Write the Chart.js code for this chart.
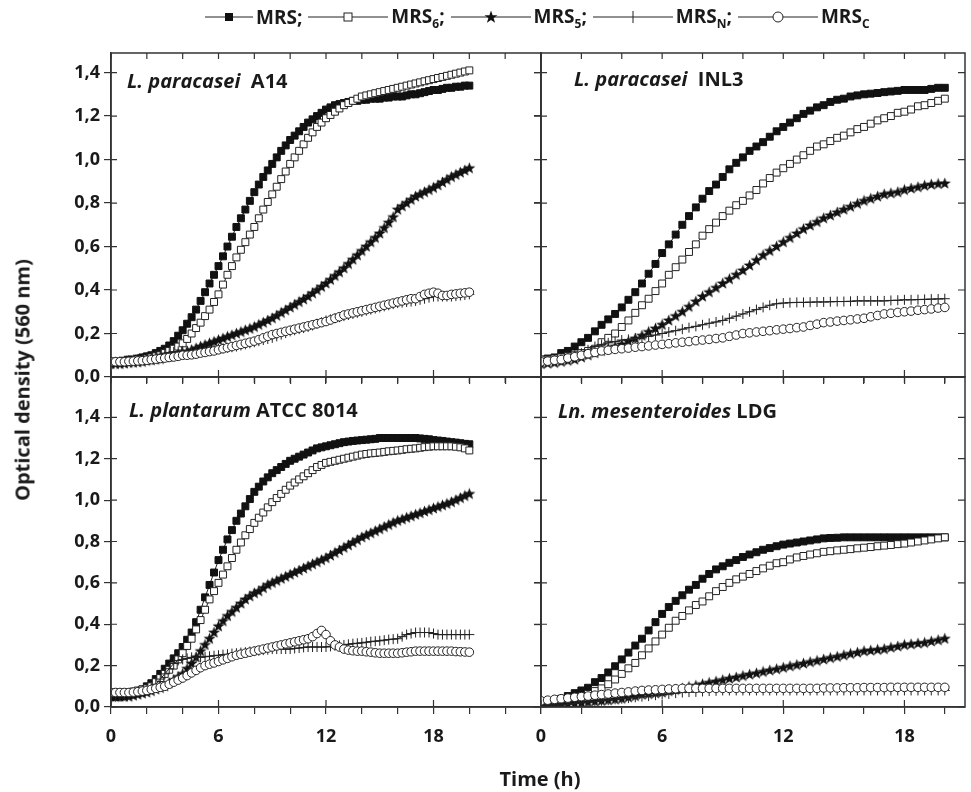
<!DOCTYPE html>
<html>
<head>
<meta charset="utf-8">
<script src="https://cdn.jsdelivr.net/npm/chart.js@4.4.1/dist/chart.umd.min.js"></script>
<style>
  html, body { margin: 0; padding: 0; background: #fff; }
  #wrap { position: relative; width: 971px; height: 792px; font-family: 'Open Sans', sans-serif; font-weight: bold; color: #1a1a1a; }
  #wrap canvas { position: absolute; left: 0; top: 0; }
  .ptitle { position: absolute; font-size: 20px; white-space: nowrap; }
  #legend { position: absolute; left: 205px; top: 3px; display: flex; align-items: center; font-size: 19px; white-space: nowrap; }
  #legend .item { display: flex; align-items: center; }
  #legend svg { display: block; }
  #legend span { margin: 0 6px 0 3px; }
  #legend sub { font-size: 12px; }
  #ytitle { position: absolute; left: 22px; top: 380px; font-size: 20px; white-space: nowrap; transform: translate(-50%, -50%) rotate(-90deg); }
  #xtitle { position: absolute; left: 540px; top: 778px; font-size: 20px; white-space: nowrap; transform: translate(-50%, -50%); }
</style>
</head>
<body>
<div id="wrap">
  <canvas id="tl" width="971" height="792"></canvas>
  <canvas id="tr" width="971" height="792"></canvas>
  <canvas id="bl" width="971" height="792"></canvas>
  <canvas id="br" width="971" height="792"></canvas>
  <div id="legend"></div>
  <div class="ptitle" style="left:127px;top:67px"><i>L. paracasei</i>&nbsp; A14</div>
  <div class="ptitle" style="left:574px;top:65px"><i>L. paracasei</i>&nbsp; INL3</div>
  <div class="ptitle" style="left:129px;top:396px"><i>L. plantarum</i> ATCC 8014</div>
  <div class="ptitle" style="left:558px;top:397px"><i>Ln. mesenteroides</i> LDG</div>
  <div id="ytitle">Optical density (560 nm)</div>
  <div id="xtitle">Time (h)</div>
</div>
<script>
// sampling times (h)
const tLeft = [0,0.25,0.5,0.75,1,1.25,1.5,1.75,2,2.25,2.5,2.75,3,3.25,3.5,3.75,4,4.25,4.5,4.75,
  5,5.25,5.5,5.75,6,6.25,6.5,6.75,7,7.25,7.5,7.75,8,8.25,8.5,8.75,9,9.25,9.5,9.75,
  10,10.25,10.5,10.75,11,11.25,11.5,11.75,12,12.25,12.5,12.75,13,13.25,13.5,13.75,14,14.25,14.5,14.75,
  15,15.25,15.5,15.75,16,16.25,16.5,16.75,17,17.25,17.5,17.75,18,18.25,18.5,18.75,19,19.25,19.5,19.75,20];
const tRight = [0,0.33,0.67,1,1.33,1.67,2,2.33,2.67,3,3.33,3.67,4,4.33,4.67,5,5.33,5.67,6,6.33,6.67,
  7,7.33,7.67,8,8.33,8.67,9,9.33,9.67,10,10.33,10.67,11,11.33,11.67,12,12.33,12.67,13,13.33,13.67,
  14,14.33,14.67,15,15.33,15.67,16,16.33,16.67,17,17.33,17.67,18,18.33,18.67,19,19.33,19.67,20];

const seriesNames = ["MRS", "MRS6", "MRS5", "MRSN", "MRSC"];
const legendSubs = ["", "6", "5", "N", "C"];

const xTickLabels = [0, 6, 12, 18];

// L. paracasei A14
const a14Mrs = [.07,.07,.07,.075,.08,.08,.085,.09,.095,.10,.11,.12,.13,.145,.165,.19,.215,.245,.275,.31,
  .35,.39,.43,.47,.51,.555,.60,.645,.69,.73,.77,.81,.85,.885,.92,.95,.98,1.01,1.04,1.065,
  1.09,1.11,1.13,1.15,1.17,1.185,1.20,1.215,1.23,1.24,1.25,1.255,1.26,1.265,1.27,1.27,1.275,1.275,1.28,1.28,
  1.28,1.285,1.285,1.29,1.29,1.29,1.295,1.30,1.30,1.305,1.31,1.315,1.32,1.32,1.325,1.33,1.33,1.335,1.335,1.34,1.34];
const a14Mrs6 = [.07,.07,.07,.07,.075,.075,.08,.08,.085,.09,.095,.10,.11,.12,.13,.14,.155,.175,.20,.225,
  .25,.28,.31,.345,.38,.425,.47,.51,.55,.585,.62,.655,.69,.73,.77,.805,.84,.875,.91,.945,
  .98,1.01,1.04,1.07,1.10,1.125,1.15,1.17,1.19,1.205,1.22,1.235,1.25,1.26,1.27,1.28,1.29,1.295,1.30,1.305,
  1.31,1.315,1.32,1.325,1.33,1.335,1.34,1.345,1.35,1.355,1.36,1.365,1.37,1.375,1.38,1.385,1.39,1.395,1.40,1.405,1.41];
const a14Mrs5 = [.06,.06,.06,.062,.065,.066,.068,.07,.075,.077,.08,.083,.09,.094,.098,.104,.11,.117,.124,.132,
  .14,.147,.155,.162,.17,.177,.185,.192,.20,.207,.215,.222,.23,.24,.25,.26,.27,.282,.295,.307,
  .32,.332,.345,.357,.37,.385,.40,.415,.43,.447,.465,.482,.50,.52,.54,.56,.58,.60,.62,.64,
  .66,.685,.71,.735,.77,.785,.80,.815,.83,.84,.85,.86,.87,.882,.895,.907,.92,.93,.94,.95,.96];
const a14MrsN = [.07,.07,.072,.075,.078,.08,.083,.086,.09,.095,.10,.105,.11,.113,.116,.118,.12,.12,.12,.12,
  .12,.122,.124,.126,.13,.132,.134,.137,.14,.145,.15,.155,.16,.165,.17,.175,.18,.187,.195,.202,
  .21,.215,.22,.225,.23,.237,.245,.252,.26,.265,.27,.275,.28,.285,.29,.295,.30,.305,.31,.315,
  .32,.325,.33,.335,.34,.342,.345,.347,.35,.355,.36,.365,.37,.37,.37,.37,.37,.372,.375,.377,.38];
const a14MrsC = [.07,.07,.07,.07,.072,.073,.074,.075,.077,.08,.082,.085,.087,.09,.092,.095,.10,.10,.102,.105,
  .11,.113,.117,.12,.125,.13,.135,.14,.145,.15,.155,.16,.165,.172,.18,.187,.195,.20,.205,.21,
  .215,.22,.225,.23,.235,.24,.245,.25,.255,.262,.27,.277,.285,.29,.295,.30,.305,.31,.315,.32,
  .325,.33,.335,.34,.345,.35,.355,.36,.36,.37,.38,.385,.39,.385,.375,.375,.38,.382,.385,.387,.39];

// L. paracasei INL3
const inl3Mrs = [.08,.085,.09,.11,.12,.14,.16,.18,.21,.24,.265,.29,.32,.355,.39,.43,.475,.52,.57,.61,.655,
  .70,.74,.78,.82,.855,.885,.92,.955,.985,1.01,1.04,1.06,1.08,1.105,1.13,1.15,1.17,1.19,1.21,1.225,1.24,
  1.25,1.265,1.275,1.28,1.29,1.295,1.30,1.303,1.306,1.31,1.313,1.316,1.32,1.32,1.32,1.32,1.325,1.33,1.33];
const inl3Mrs6 = [.08,.08,.085,.09,.095,.10,.11,.12,.13,.16,.18,.20,.23,.26,.295,.33,.36,.395,.43,.47,.505,
  .54,.575,.61,.65,.68,.71,.74,.765,.79,.81,.835,.86,.89,.915,.94,.96,.98,1.00,1.02,1.04,1.06,
  1.07,1.085,1.10,1.11,1.125,1.14,1.15,1.165,1.18,1.19,1.20,1.215,1.22,1.23,1.245,1.25,1.26,1.27,1.28];
const inl3Mrs5 = [.06,.062,.065,.07,.075,.08,.09,.10,.11,.12,.13,.14,.15,.163,.177,.19,.207,.223,.24,.26,.28,
  .30,.323,.347,.37,.39,.41,.43,.45,.47,.49,.513,.537,.56,.58,.60,.62,.64,.66,.68,.697,.713,
  .73,.743,.757,.77,.783,.797,.81,.82,.83,.84,.845,.85,.86,.867,.873,.88,.885,.888,.89];
const inl3MrsN = [.07,.073,.077,.08,.09,.10,.11,.125,.14,.15,.157,.163,.17,.173,.177,.18,.187,.193,.20,.207,.213,
  .22,.227,.233,.24,.247,.253,.26,.27,.28,.29,.30,.31,.32,.33,.337,.34,.342,.343,.343,.344,.345,
  .345,.346,.347,.347,.348,.35,.35,.35,.35,.35,.352,.353,.355,.355,.356,.357,.358,.359,.36];
const inl3MrsC = [.07,.073,.077,.08,.087,.093,.10,.107,.113,.12,.123,.127,.13,.133,.137,.14,.143,.147,.15,.153,.157,
  .16,.163,.167,.17,.173,.177,.18,.187,.193,.20,.203,.207,.21,.213,.217,.22,.223,.227,.23,.237,.243,
  .25,.253,.257,.26,.263,.267,.27,.277,.283,.29,.293,.297,.30,.303,.307,.31,.313,.317,.32];

// L. plantarum ATCC 8014
const atccMrs = [.05,.05,.05,.055,.06,.065,.075,.085,.10,.115,.135,.16,.185,.21,.235,.26,.29,.325,.36,.41,
  .47,.53,.59,.65,.71,.76,.81,.855,.90,.935,.97,1.005,1.04,1.065,1.09,1.11,1.13,1.145,1.16,1.175,
  1.19,1.20,1.21,1.22,1.23,1.24,1.25,1.255,1.26,1.265,1.27,1.275,1.28,1.283,1.286,1.288,1.29,1.292,1.294,1.296,
  1.30,1.30,1.30,1.30,1.30,1.30,1.30,1.30,1.30,1.298,1.296,1.294,1.29,1.288,1.286,1.283,1.28,1.278,1.275,1.272,1.27];
const atccMrs6 = [.07,.07,.07,.07,.07,.075,.08,.085,.09,.10,.12,.14,.16,.18,.20,.23,.26,.295,.33,.375,
  .42,.47,.52,.56,.60,.64,.68,.72,.76,.795,.83,.86,.89,.915,.94,.965,.99,1.01,1.03,1.05,
  1.07,1.085,1.10,1.115,1.13,1.145,1.16,1.17,1.18,1.185,1.19,1.195,1.20,1.205,1.21,1.215,1.22,1.223,1.226,1.228,
  1.23,1.233,1.236,1.238,1.24,1.243,1.246,1.248,1.25,1.253,1.256,1.258,1.26,1.26,1.26,1.26,1.26,1.258,1.255,1.25,1.24];
const atccMrs5 = [.05,.05,.05,.05,.05,.055,.06,.065,.07,.077,.085,.092,.10,.115,.13,.145,.16,.185,.21,.24,
  .27,.30,.33,.36,.39,.415,.44,.46,.48,.50,.52,.535,.55,.56,.575,.59,.60,.61,.62,.63,
  .64,.65,.66,.67,.68,.69,.70,.71,.72,.732,.745,.757,.77,.782,.795,.807,.82,.83,.84,.85,
  .86,.87,.88,.89,.90,.907,.915,.922,.93,.937,.945,.952,.96,.967,.975,.982,.99,1.00,1.01,1.02,1.03];
const atccMrsN = [.05,.05,.05,.055,.06,.065,.07,.075,.08,.09,.11,.135,.16,.185,.21,.225,.23,.235,.24,.24,
  .24,.243,.245,.248,.25,.253,.255,.258,.26,.263,.265,.268,.27,.272,.275,.277,.28,.28,.28,.28,
  .28,.283,.285,.288,.29,.29,.29,.29,.29,.293,.296,.298,.30,.303,.306,.308,.31,.313,.316,.318,
  .32,.323,.326,.328,.33,.34,.35,.355,.36,.36,.36,.36,.355,.35,.35,.35,.35,.35,.35,.35,.35];
const atccMrsC = [.07,.07,.07,.07,.07,.072,.074,.077,.08,.085,.09,.095,.10,.11,.12,.13,.14,.152,.165,.177,
  .19,.20,.207,.213,.22,.228,.235,.243,.25,.255,.26,.265,.27,.275,.28,.285,.29,.295,.30,.305,
  .31,.315,.32,.325,.33,.34,.355,.37,.35,.32,.30,.29,.28,.275,.272,.27,.27,.267,.265,.262,
  .26,.26,.26,.26,.26,.262,.265,.267,.27,.27,.27,.27,.27,.27,.27,.27,.27,.268,.267,.266,.265];

// Ln. mesenteroides LDG
const ldgMrs = [.02,.025,.033,.04,.053,.067,.08,.093,.12,.14,.167,.197,.23,.263,.297,.33,.37,.41,.45,.483,.513,
  .54,.567,.59,.62,.643,.665,.68,.697,.71,.725,.737,.748,.76,.768,.777,.785,.79,.795,.80,.805,.81,
  .815,.817,.818,.82,.82,.82,.82,.82,.82,.82,.82,.82,.82,.82,.82,.82,.82,.82,.82];
const ldgMrs6 = [.02,.023,.027,.03,.037,.043,.05,.063,.077,.09,.11,.133,.16,.187,.213,.25,.283,.317,.35,.383,.417,
  .44,.467,.493,.51,.535,.56,.58,.60,.617,.63,.643,.657,.67,.683,.695,.70,.713,.723,.73,.737,.743,
  .75,.753,.757,.76,.763,.767,.77,.773,.777,.78,.783,.787,.79,.795,.80,.805,.81,.815,.82];
const ldgMrs5 = [.01,.01,.01,.01,.013,.017,.02,.023,.027,.03,.033,.037,.04,.047,.053,.06,.063,.067,.07,.077,.083,
  .09,.097,.103,.11,.117,.123,.13,.137,.143,.15,.157,.163,.17,.177,.183,.19,.197,.203,.21,.217,.223,
  .23,.237,.243,.25,.257,.263,.27,.273,.277,.28,.287,.293,.30,.303,.307,.31,.317,.323,.33];
const ldgMrsN = [.01,.01,.01,.01,.013,.017,.02,.023,.027,.03,.033,.037,.04,.043,.047,.05,.053,.057,.06,.063,.067,
  .07,.072,.073,.075,.077,.078,.08,.08,.08,.08,.08,.08,.08,.08,.08,.08,.08,.08,.08,.08,.08,
  .08,.08,.08,.08,.08,.08,.08,.08,.08,.08,.08,.08,.08,.08,.08,.08,.08,.08,.08];
const ldgMrsC = [.03,.033,.037,.04,.043,.047,.05,.053,.057,.06,.063,.067,.07,.073,.077,.08,.082,.083,.085,.087,.088,
  .09,.09,.09,.09,.09,.09,.09,.09,.09,.09,.09,.09,.09,.09,.09,.09,.09,.09,.09,.09,.09,
  .092,.092,.092,.093,.093,.093,.094,.094,.094,.094,.095,.095,.095,.095,.095,.095,.095,.095,.095];

// filled star marker
const starImg = document.createElement("canvas");
starImg.width = 13; starImg.height = 13;
const sc = starImg.getContext("2d");
sc.beginPath();
for (let k = 0; k < 10; k++) {
  const r = k % 2 ? 2.6 : 6.3;
  const a = -Math.PI / 2 + k * Math.PI / 5;
  sc.lineTo(6.5 + r * Math.cos(a), 6.7 + r * Math.sin(a));
}
sc.closePath();
sc.fillStyle = "#111";
sc.fill();

const markStyles = [
  { pointStyle: "rect", pointRadius: 4.9, pointBackgroundColor: "#111", pointBorderColor: "#111", pointBorderWidth: 1 },
  { pointStyle: "rect", pointRadius: 4.9, pointBackgroundColor: "#fff", pointBorderColor: "#222", pointBorderWidth: 1 },
  { pointStyle: starImg, pointRadius: 5 },
  { pointStyle: "cross", pointRadius: 5, pointBackgroundColor: "#222", pointBorderColor: "#222", pointBorderWidth: 1 },
  { pointStyle: "circle", pointRadius: 4.3, pointBackgroundColor: "#fff", pointBorderColor: "#222", pointBorderWidth: 1 }
];

// frame with inward ticks on all four sides
const framePlugin = {
  id: "frame",
  afterDraw(chart) {
    const { ctx, chartArea: a, scales } = chart;
    ctx.save();
    ctx.strokeStyle = "#333";
    ctx.lineWidth = 1.5;
    ctx.strokeRect(a.left, a.top, a.right - a.left, a.bottom - a.top);
    ctx.lineWidth = 1.2;
    ctx.beginPath();
    scales.x.ticks.forEach(t => {
      const px = scales.x.getPixelForValue(t.value);
      ctx.moveTo(px, a.top); ctx.lineTo(px, a.top + 6);
      if (xTickLabels.includes(t.value)) { ctx.moveTo(px, a.bottom); ctx.lineTo(px, a.bottom - 7); }
    });
    scales.y.ticks.forEach(t => {
      const py = scales.y.getPixelForValue(t.value);
      ctx.moveTo(a.left, py); ctx.lineTo(a.left + 6, py);
      ctx.moveTo(a.right, py); ctx.lineTo(a.right - 7, py);
    });
    ctx.stroke();
    ctx.restore();
  }
};

Chart.defaults.font.family = "'Open Sans', sans-serif";
Chart.defaults.font.weight = "bold";
Chart.defaults.color = "#1a1a1a";

function makePanel(id, times, values, area, xMax, yMax, xLabels, yLabels) {
  const datasets = values.map((vals, s) => Object.assign({
    label: seriesNames[s],
    data: vals.map((v, i) => ({ x: times[i], y: v })),
    borderColor: "#222",
    borderWidth: 1,
    tension: 0,
    order: 5 - s
  }, markStyles[s]));

  new Chart(document.getElementById(id), {
    type: "line",
    data: { datasets },
    options: {
      responsive: false,
      animation: false,
      layout: { padding: { left: area[0] - 60, top: area[1], right: 971 - area[2], bottom: 792 - area[3] - 44 } },
      plugins: { legend: { display: false }, tooltip: { enabled: false } },
      scales: {
        x: {
          type: "linear", min: 0, max: xMax,
          afterFit: s => { s.height = 44; },
          ticks: {
            stepSize: 2, includeBounds: false, maxRotation: 0, autoSkip: false, padding: 12,
            font: { size: 18, weight: "bold" },
            callback: v => (xLabels && xTickLabels.includes(v)) ? String(v) : ""
          },
          grid: { drawOnChartArea: false, tickLength: 7, color: "#333", lineWidth: 1.2 },
          border: { display: true, color: "#333", width: 1.5 }
        },
        y: {
          min: 0, max: yMax,
          afterFit: s => { s.width = 60; },
          ticks: {
            stepSize: 0.2, includeBounds: false, padding: 4,
            font: { size: 18, weight: "bold" },
            callback: v => yLabels ? v.toFixed(1).replace(".", ",") : ""
          },
          grid: { drawOnChartArea: false, tickLength: 7, color: "#333", lineWidth: 1.2 },
          border: { display: true, color: "#333", width: 1.5 }
        }
      }
    },
    plugins: [framePlugin]
  });
}

makePanel("tl", tLeft, [a14Mrs, a14Mrs6, a14Mrs5, a14MrsN, a14MrsC], [111, 53, 541, 377], 24, 1.49, false, true);
makePanel("tr", tRight, [inl3Mrs, inl3Mrs6, inl3Mrs5, inl3MrsN, inl3MrsC], [541, 53, 968, 377], 21, 1.49, false, false);
makePanel("bl", tLeft, [atccMrs, atccMrs6, atccMrs5, atccMrsN, atccMrsC], [111, 377, 541, 707], 24, 1.595, true, true);
makePanel("br", tRight, [ldgMrs, ldgMrs6, ldgMrs5, ldgMrsN, ldgMrsC], [541, 377, 968, 707], 21, 1.595, true, false);

// legend
const legendMarks = [
  '<rect x="20" y="6" width="8" height="8" fill="#111"/>',
  '<rect x="36" y="6" width="8" height="8" fill="#fff" stroke="#222" stroke-width="1"/>',
  '<polygon points="40,3.5 41.6,8.2 46.5,8.2 42.6,11.1 44.1,15.8 40,12.9 35.9,15.8 37.4,11.1 33.5,8.2 38.4,8.2" fill="#111"/>',
  '<line x1="40" y1="4" x2="40" y2="16" stroke="#222" stroke-width="1"/>',
  '<circle cx="40" cy="10" r="5" fill="#fff" stroke="#222" stroke-width="1"/>'
];
const legend = document.getElementById("legend");
seriesNames.forEach((name, s) => {
  const item = document.createElement("div");
  item.className = "item";
  const w = s === 0 ? 48 : 80;
  item.innerHTML = '<svg width="' + w + '" height="20"><line x1="0" y1="10" x2="' + w + '" y2="10" stroke="#222" stroke-width="1"/>' + legendMarks[s] + '</svg>' +
    '<span>MRS' + (legendSubs[s] ? '<sub>' + legendSubs[s] + '</sub>' : '') + (s < 4 ? ';' : '') + '</span>';
  legend.appendChild(item);
});
</script>
</body>
</html>
